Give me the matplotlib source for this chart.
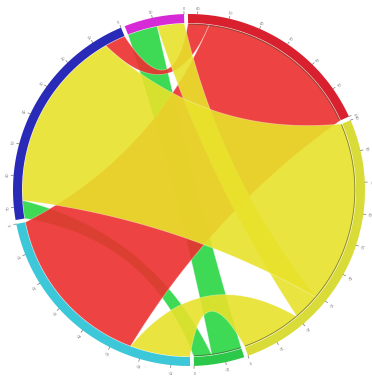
import numpy as np
import matplotlib
matplotlib.use("Agg")
import matplotlib.pyplot as plt
from matplotlib.patches import Polygon

# Sectors around the circle (counter-clockwise) and their colours
sectors = ["Y", "R", "M", "B", "C", "G"]
sector_colors = ["#D9DC38", "#D8202E", "#D62AD6", "#2A2AB8", "#3CC8D8", "#2CC84A"]

# Links: source sector, target sector, value
link_src = ["Y", "Y", "Y", "R", "R", "G", "G"]
link_dst = ["C", "M", "B", "C", "B", "B", "M"]
link_val = [20, 9, 61, 56, 7, 6, 10]

# Counter-clockwise order of link ends inside each sector (indices into link lists)
sector_link_order = {
    "Y": [0, 1, 2],
    "R": [3, 4],
    "M": [1, 6],
    "B": [4, 2, 5],
    "C": [3, 0],
    "G": [5, 6],
}

link_fill = {"Y": (0.91, 0.885, 0.17), "R": (0.93, 0.18, 0.18), "G": (0.16, 0.84, 0.26)}
link_alpha = 0.9
draw_order = ["G", "R", "Y"]

cx, cy = 189.0, 190.0
r_out, r_in = 176.0, 167.0
r_link = r_in - 0.3
start_deg = -70.4
gap_deg = 1.3
tick_step = 10

fig = plt.figure(figsize=(3.72, 3.80), dpi=100)
ax = fig.add_axes([0, 0, 1, 1])
ax.set_xlim(0, 372)
ax.set_ylim(380, 0)
ax.axis("off")


def pt(r, deg):
    a = np.deg2rad(deg)
    return np.array([cx + r * np.cos(a), cy - r * np.sin(a)])


def arc(r, d0, d1, n=60):
    t = np.linspace(d0, d1, n)
    return np.array([pt(r, d) for d in t])


def bezier(p, q, n=80):
    c0 = np.array([cx, cy])
    m = (p + q) / 2.0
    ctrl = c0 + 0.5 * (m - c0)
    t = np.linspace(0, 1, n)[:, None]
    return (1 - t) ** 2 * p + 2 * (1 - t) * t * ctrl + t ** 2 * q


# sector sizes
sizes = {s: 0.0 for s in sectors}
for s, d, v in zip(link_src, link_dst, link_val):
    sizes[s] += v
    sizes[d] += v
total = sum(sizes.values())
deg_per_unit = (360.0 - gap_deg * len(sectors)) / total

sector_span = {}
a = start_deg
for s in sectors:
    span = sizes[s] * deg_per_unit
    sector_span[s] = (a, a + span)
    a += span + gap_deg

# positions of link ends
ends = {}
for s in sectors:
    a0 = sector_span[s][0]
    for i in sector_link_order[s]:
        w = link_val[i] * deg_per_unit
        ends[(i, s)] = (a0, a0 + w)
        a0 += w

# links
for grp in draw_order:
    for i, (s, d, v) in enumerate(zip(link_src, link_dst, link_val)):
        if s != grp:
            continue
        a1, a2 = ends[(i, s)]
        b1, b2 = ends[(i, d)]
        A = arc(r_link, a1, a2)
        B = arc(r_link, b1, b2)
        e1 = bezier(pt(r_link, a2), pt(r_link, b1))
        e2 = bezier(pt(r_link, b2), pt(r_link, a1))
        poly = np.vstack([A, e1, B, e2])
        col = link_fill[s]
        ax.add_patch(Polygon(poly, closed=True, facecolor=(*col, link_alpha),
                             edgecolor=(1, 1, 1, 0.35), lw=0.6, zorder=2))

# outer track
for s, col in zip(sectors, sector_colors):
    d0, d1 = sector_span[s]
    outer = arc(r_out, d0, d1)
    inner = arc(r_in, d1, d0)
    ax.add_patch(Polygon(np.vstack([outer, inner]), closed=True,
                         facecolor=col, edgecolor="none", zorder=3))
    # thin border line along the inner side of the source sectors
    if s in ("Y", "R", "G"):
        ln = arc(r_in - 1.2, d0 + 0.3, d1 - 0.3)
        ax.plot(ln[:, 0], ln[:, 1], color="#4a4a30", lw=0.6, alpha=0.65, zorder=3)
    # ticks and tick labels
    for k in range(0, int(sizes[s]) + 1, tick_step):
        ang = d0 + k * deg_per_unit
        p0, p1 = pt(r_out, ang), pt(r_out + 2.5, ang)
        ax.plot([p0[0], p1[0]], [p0[1], p1[1]], color="#777777", lw=0.5, zorder=3)
        pl = pt(r_out + 5.5, ang)
        ax.text(pl[0], pl[1], str(k), fontsize=2.6, color="#777777",
                ha="center", va="center", rotation=ang - 90, zorder=3)

fig.savefig("out.png", dpi=100, facecolor="white")
